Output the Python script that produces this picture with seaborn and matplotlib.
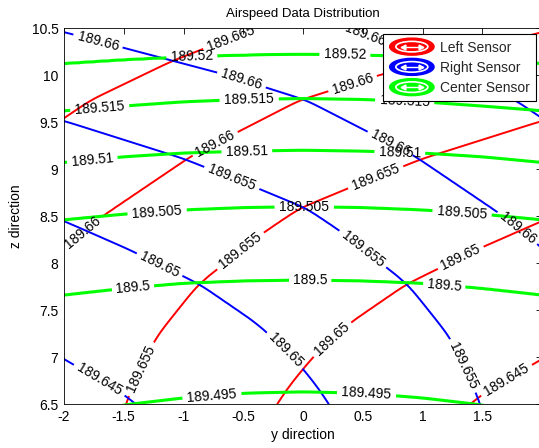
import numpy as np
import matplotlib
matplotlib.use("Agg")
import matplotlib.pyplot as plt
import seaborn as sns
from matplotlib.patches import Ellipse, Patch
from matplotlib.legend_handler import HandlerBase
from matplotlib.lines import Line2D

# ---------------- data ----------------
side_levels = [189.645, 189.65, 189.655, 189.66, 189.665]
center_levels = [189.495, 189.5, 189.505, 189.51, 189.515, 189.52]

# Left sensor contour traces (y, z); right sensor is the mirror image
left_645_y = [-2.2, -2.0, 0.0, 0.8, 1.1, 1.41, 1.53, 1.87, 1.96, 2.2]
left_645_z = [-0.5, 0.0, 4.0, 5.85, 6.2, 6.51, 6.63, 6.88, 6.95, 7.12]
left_650_y = [-2.2, -2.0, -0.6, -0.4, -0.22, -0.1, 0.11, 0.39, 0.86, 1.45, 1.97, 2.2]
left_650_z = [1.5, 2.0, 5.5, 6.1, 6.5, 6.72, 7.04, 7.36, 7.77, 8.14, 8.43, 8.55]
left_655_y = [-2.2, -2.0, -1.75, -1.6, -1.49, -1.25, -0.88, -0.335, -0.03, 0.445, 1.0, 1.97, 2.2]
left_655_z = [3.5, 4.0, 5.3, 6.0, 6.51, 7.18, 7.77, 8.32, 8.58, 8.83, 9.11, 9.5, 9.58]
left_660_y = [-2.2, -2.0, -1.7, -0.92, -0.03, 0.64, 1.92, 2.2]
left_660_z = [7.92, 8.16, 8.48, 9.15, 9.73, 10.0, 10.43, 10.52]
left_665_y = [-2.2, -2.0, -1.78, -1.11, -0.81, -0.38, 0.5, 1.5, 2.2]
left_665_z = [9.37, 9.54, 9.73, 10.14, 10.29, 10.5, 10.88, 11.25, 11.5]

# Center sensor contour heights at |y| positions (symmetric)
center_abs_y = [0.0, 0.5, 1.0, 1.5, 2.0, 2.2]
center_495_z = [6.63, 6.615, 6.565, 6.49, 6.37, 6.31]
center_500_z = [7.82, 7.81, 7.785, 7.73, 7.66, 7.62]
center_505_z = [8.60, 8.59, 8.565, 8.52, 8.46, 8.43]
center_510_z = [9.20, 9.19, 9.17, 9.13, 9.07, 9.04]
center_515_z = [9.75, 9.74, 9.715, 9.67, 9.62, 9.59]
center_520_z = [10.22, 10.21, 10.19, 10.16, 10.12, 10.10]

# label anchor points (y, z)
left_label_pos = [(-0.6, 10.38), (0.42, 9.89), (-0.74, 9.28), (-1.83, 8.3),
                  (0.6, 8.94), (-0.53, 8.14), (-1.34, 6.86),
                  (1.33, 8.03), (0.25, 7.18), (1.7, 6.76)]
right_label_pos = [(-1.72, 10.34), (-0.53, 9.89), (0.72, 9.25), (1.78, 8.35),
                   (-0.61, 8.86), (0.47, 8.1), (1.33, 6.9),
                   (-1.22, 7.93), (-0.15, 7.07), (-1.72, 6.72), (0.55, 10.4)]
center_label_pos = [(-0.93, 10.18), (0.35, 10.19),
                    (-1.7, 9.63), (-0.45, 9.71), (0.85, 9.68),
                    (-1.76, 9.06), (-0.47, 9.18), (0.81, 9.16),
                    (-1.22, 8.53), (0.01, 8.54), (1.33, 8.51),
                    (-1.42, 7.71), (0.06, 7.82), (1.18, 7.73),
                    (-0.76, 6.56), (0.53, 6.57)]

x_ticks = [-2, -1.5, -1, -0.5, 0, 0.5, 1, 1.5, 2]
z_ticks = [6.5, 7, 7.5, 8, 8.5, 9, 9.5, 10, 10.5]
legend_labels = ["Left Sensor", "Right Sensor", "Center Sensor"]

# ---------------- build gridded fields from the traces ----------------
Y = np.linspace(-2.2, 2.2, 441)
Zg = np.linspace(6.3, 10.7, 441)
dy = Y[1] - Y[0]


def smooth_curve(ys, zs):
    zl = np.interp(Y, ys, zs)
    n = 30
    k = np.exp(-0.5 * (np.arange(-n, n + 1) * dy / 0.06) ** 2)
    k /= k.sum()
    padded = np.pad(zl, n, mode="reflect", reflect_type="odd")
    return np.convolve(padded, k, mode="valid")


def build_field(levels, curves):
    zk = np.array([smooth_curve(ys, zs) for ys, zs in curves])
    step = levels[1] - levels[0]
    lv = np.concatenate([[levels[0] - 2 * step], levels, [levels[-1] + 2 * step]])
    V = np.empty((len(Zg), len(Y)))
    for j in range(len(Y)):
        zc = zk[:, j]
        zz = np.concatenate([[zc[0] - 3], zc, [zc[-1] + 3]])
        V[:, j] = np.interp(Zg, zz, lv)
    return V


left_curves = [(left_645_y, left_645_z), (left_650_y, left_650_z),
               (left_655_y, left_655_z), (left_660_y, left_660_z),
               (left_665_y, left_665_z)]
V_left = build_field(side_levels, left_curves)
V_right = V_left[:, ::-1]

cy_full = [-v for v in center_abs_y[::-1]] + center_abs_y[1:]
center_curves = []
for zs in [center_495_z, center_500_z, center_505_z, center_510_z, center_515_z, center_520_z]:
    center_curves.append((cy_full, list(zs[::-1]) + list(zs[1:])))
V_center = build_field(center_levels, center_curves)

YY, ZZ = np.meshgrid(Y, Zg)

# ---------------- plotting ----------------
sns.set_theme(style="white")
plt.rcParams["font.family"] = ["Liberation Sans", "DejaVu Sans"]
plt.rcParams["axes.unicode_minus"] = False

fig = plt.figure(figsize=(5.39, 4.48), dpi=100)
ax = fig.add_axes([64 / 539, 44 / 448, 478 / 539, 376 / 448])

cs_l = ax.contour(YY, ZZ, V_left, levels=side_levels, colors="#ff0000", linewidths=1.4)
cs_r = ax.contour(YY, ZZ, V_right, levels=side_levels, colors="#0000ff", linewidths=1.4)
cs_c = ax.contour(YY, ZZ, V_center, levels=center_levels, colors="#00ff00", linewidths=2.2)

for cs, pos in [(cs_l, left_label_pos), (cs_r, right_label_pos), (cs_c, center_label_pos)]:
    ax.clabel(cs, fmt="%g", colors="black", fontsize=10, inline=True,
              inline_spacing=2, manual=pos)

ax.set_xlim(-2, 2)
ax.set_ylim(6.5, 10.5)
ax.set_xticks(x_ticks)
ax.set_xticklabels(["%g" % t for t in x_ticks])
ax.set_yticks(z_ticks)
ax.set_yticklabels(["%g" % t for t in z_ticks])
ax.tick_params(direction="in", length=4, width=0.6, top=True, right=True,
               labelsize=10, pad=4, colors="black")
for sp in ax.spines.values():
    sp.set_visible(True)
    sp.set_color("black")
    sp.set_linewidth(0.6)

ax.set_title("Airspeed Data Distribution", fontsize=9.5, pad=8, color="black")
ax.set_xlabel("y direction", fontsize=10, labelpad=3, color="black")
ax.set_ylabel("z direction", fontsize=10, labelpad=6, color="black")


class EllipseHandler(HandlerBase):
    def create_artists(self, legend, orig_handle, xdescent, ydescent,
                       width, height, fontsize, trans):
        c = orig_handle.get_facecolor()
        cx = -xdescent + width / 2
        cy = -ydescent + height / 2
        h = height * 1.75
        e1 = Ellipse((cx, cy), width, h, facecolor=c, edgecolor=c, transform=trans)
        e2 = Ellipse((cx, cy), width * 0.72, h * 0.62, facecolor="none",
                     edgecolor="white", lw=1.2, transform=trans)
        ln = Line2D([cx - width * 0.2, cx + width * 0.2], [cy, cy], color="white",
                    lw=1.0, transform=trans)
        m1 = Line2D([cx - width * 0.2], [cy], marker="<", color="white", ms=3.5,
                    lw=0, transform=trans)
        m2 = Line2D([cx + width * 0.2], [cy], marker=">", color="white", ms=3.5,
                    lw=0, transform=trans)
        return [e1, e2, ln, m1, m2]


handles = [Patch(facecolor="#ff0000", label=legend_labels[0]),
           Patch(facecolor="#0000ff", label=legend_labels[1]),
           Patch(facecolor="#00ff00", label=legend_labels[2])]
leg = ax.legend(handles=handles, handler_map={Patch: EllipseHandler()},
                loc="upper right", fontsize=10, frameon=True, fancybox=False,
                edgecolor="black", framealpha=1, borderaxespad=0.45,
                handlelength=3.2, handletextpad=0.4, labelspacing=0.45,
                borderpad=0.45)
leg.get_frame().set_linewidth(0.8)

fig.savefig("out.png", dpi=100, facecolor="white")
